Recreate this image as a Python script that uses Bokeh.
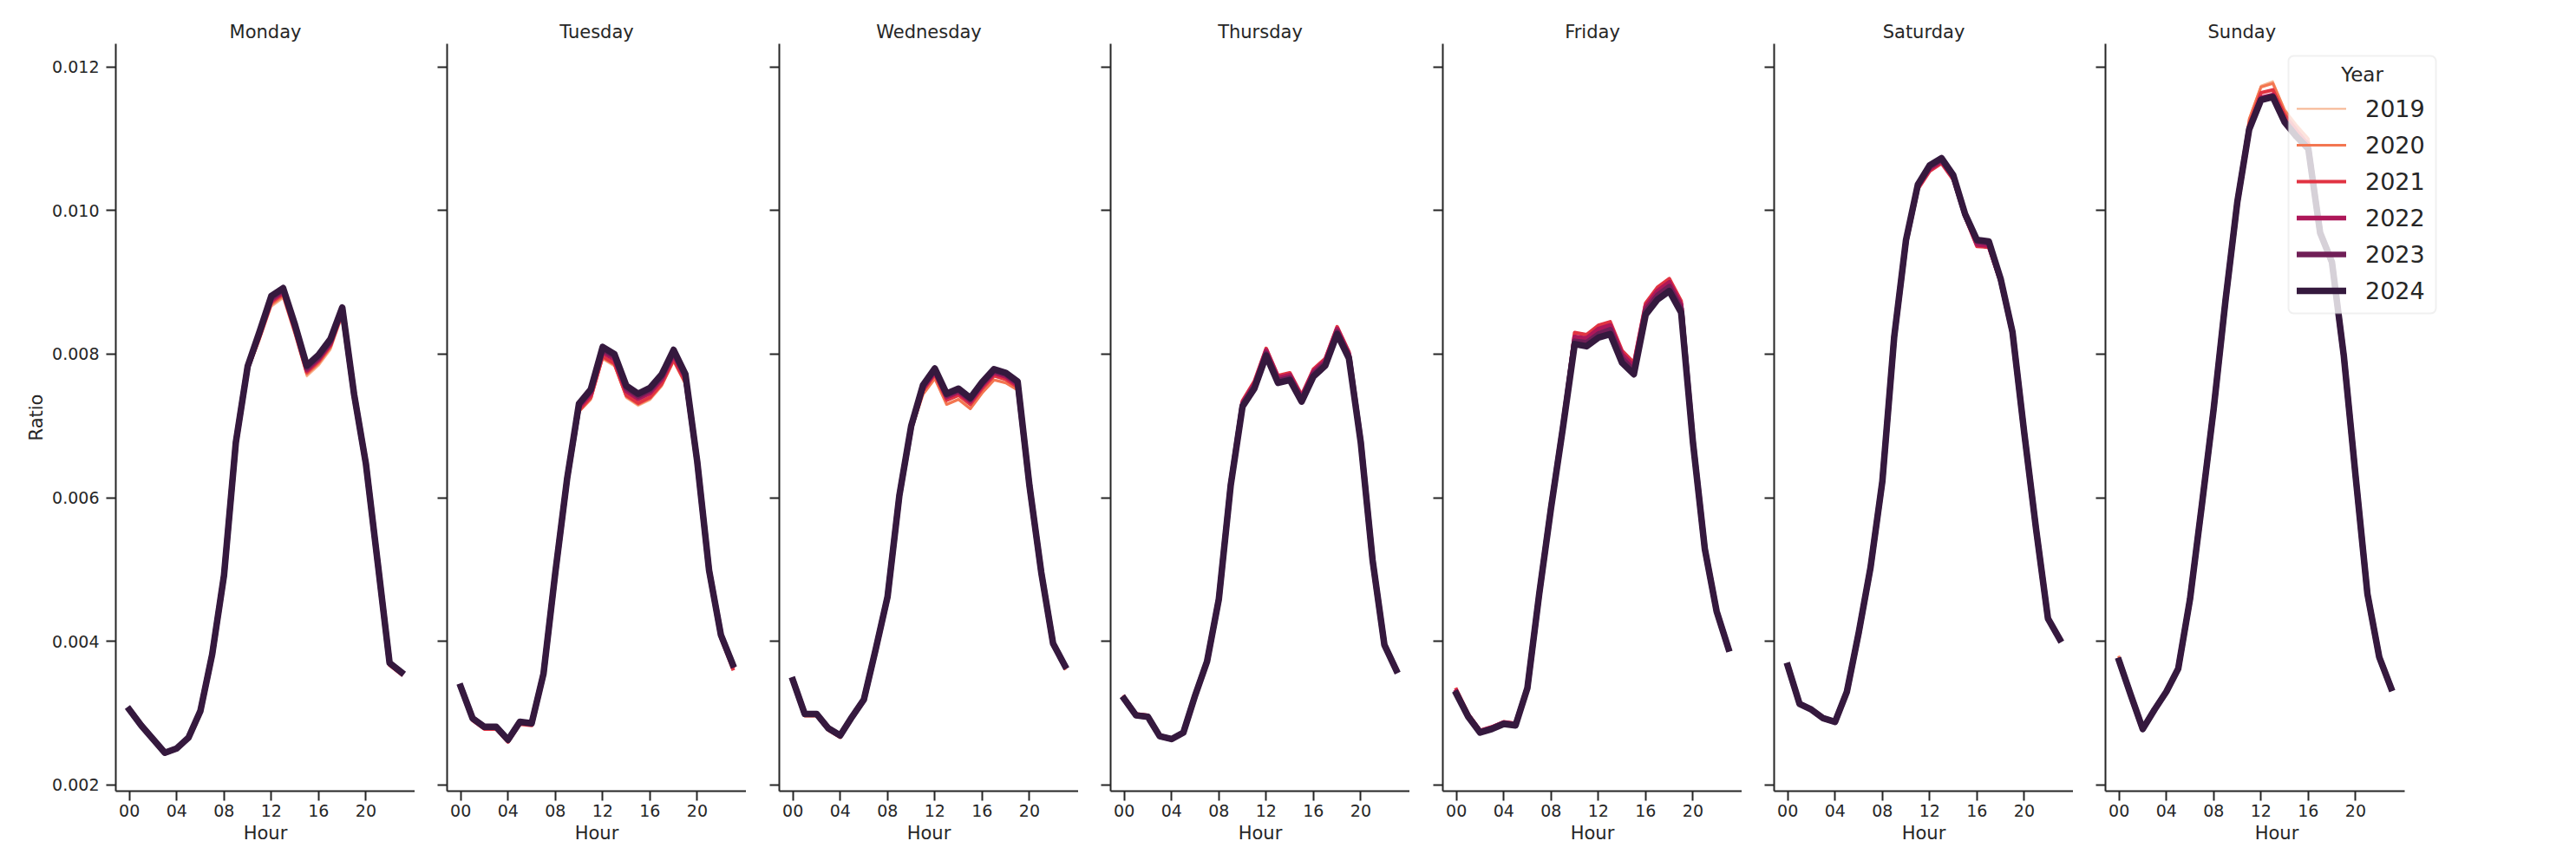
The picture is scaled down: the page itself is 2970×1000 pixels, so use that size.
from bokeh.plotting import figure
from bokeh.layouts import row
from bokeh.models import (Range1d, FixedTicker, PrintfTickFormatter, Legend, LegendItem,
                          BoxAnnotation, Label)
from bokeh.embed import file_html
from bokeh.resources import INLINE

hours = list(range(24))
years = [2019, 2020, 2021, 2022, 2023, 2024]
days = ["Monday", "Tuesday", "Wednesday", "Thursday", "Friday", "Saturday", "Sunday"]
x_ticks = [0, 4, 8, 12, 16, 20]
x_tick_labels = ["00", "04", "08", "12", "16", "20"]
y_ticks = [0.002, 0.004, 0.006, 0.008, 0.010, 0.012]

mon_2019 = [0.00304, 0.00282, 0.00263, 0.00244, 0.00250, 0.00265, 0.00302, 0.00381, 0.00491, 0.00674, 0.00776, 0.00819, 0.00866, 0.00878, 0.00826, 0.00769, 0.00784, 0.00806, 0.00853, 0.00740, 0.00645, 0.00508, 0.00369, 0.00356]
mon_2020 = [0.00304, 0.00282, 0.00263, 0.00244, 0.00250, 0.00265, 0.00302, 0.00381, 0.00491, 0.00675, 0.00778, 0.00821, 0.00869, 0.00881, 0.00829, 0.00772, 0.00787, 0.00809, 0.00856, 0.00741, 0.00646, 0.00508, 0.00368, 0.00355]
mon_2021 = [0.00304, 0.00283, 0.00264, 0.00244, 0.00250, 0.00266, 0.00303, 0.00382, 0.00492, 0.00676, 0.00780, 0.00824, 0.00872, 0.00884, 0.00832, 0.00775, 0.00790, 0.00812, 0.00858, 0.00742, 0.00646, 0.00508, 0.00367, 0.00354]
mon_2022 = [0.00305, 0.00283, 0.00264, 0.00245, 0.00251, 0.00266, 0.00303, 0.00382, 0.00492, 0.00677, 0.00781, 0.00826, 0.00875, 0.00887, 0.00835, 0.00778, 0.00793, 0.00815, 0.00861, 0.00743, 0.00647, 0.00509, 0.00369, 0.00356]
mon_2023 = [0.00305, 0.00283, 0.00264, 0.00245, 0.00251, 0.00266, 0.00303, 0.00382, 0.00492, 0.00677, 0.00783, 0.00829, 0.00878, 0.00890, 0.00838, 0.00781, 0.00796, 0.00818, 0.00863, 0.00744, 0.00647, 0.00509, 0.00370, 0.00357]
mon_2024 = [0.00305, 0.00283, 0.00264, 0.00245, 0.00251, 0.00266, 0.00303, 0.00382, 0.00492, 0.00677, 0.00783, 0.00831, 0.00881, 0.00892, 0.00841, 0.00784, 0.00799, 0.00821, 0.00865, 0.00744, 0.00647, 0.00509, 0.00370, 0.00357]

tue_2019 = [0.00336, 0.00292, 0.00280, 0.00280, 0.00262, 0.00287, 0.00285, 0.00354, 0.00494, 0.00622, 0.00719, 0.00736, 0.00793, 0.00783, 0.00739, 0.00728, 0.00736, 0.00755, 0.00789, 0.00757, 0.00648, 0.00498, 0.00407, 0.00365]
tue_2020 = [0.00336, 0.00291, 0.00279, 0.00279, 0.00261, 0.00286, 0.00284, 0.00354, 0.00494, 0.00623, 0.00720, 0.00738, 0.00795, 0.00785, 0.00741, 0.00730, 0.00738, 0.00757, 0.00791, 0.00759, 0.00648, 0.00497, 0.00406, 0.00364]
tue_2021 = [0.00336, 0.00290, 0.00278, 0.00278, 0.00260, 0.00285, 0.00283, 0.00354, 0.00494, 0.00624, 0.00722, 0.00740, 0.00797, 0.00787, 0.00743, 0.00732, 0.00740, 0.00759, 0.00793, 0.00761, 0.00648, 0.00497, 0.00405, 0.00362]
tue_2022 = [0.00337, 0.00292, 0.00280, 0.00280, 0.00262, 0.00287, 0.00285, 0.00355, 0.00495, 0.00626, 0.00726, 0.00745, 0.00803, 0.00793, 0.00749, 0.00738, 0.00746, 0.00765, 0.00799, 0.00766, 0.00649, 0.00498, 0.00408, 0.00366]
tue_2023 = [0.00337, 0.00293, 0.00281, 0.00281, 0.00263, 0.00288, 0.00286, 0.00355, 0.00496, 0.00627, 0.00729, 0.00749, 0.00807, 0.00797, 0.00753, 0.00742, 0.00750, 0.00769, 0.00803, 0.00770, 0.00650, 0.00499, 0.00409, 0.00368]
tue_2024 = [0.00337, 0.00293, 0.00281, 0.00281, 0.00263, 0.00288, 0.00286, 0.00355, 0.00496, 0.00627, 0.00731, 0.00751, 0.00810, 0.00800, 0.00756, 0.00745, 0.00753, 0.00772, 0.00806, 0.00772, 0.00650, 0.00499, 0.00409, 0.00368]

wed_2019 = [0.00345, 0.00297, 0.00297, 0.00277, 0.00267, 0.00294, 0.00318, 0.00388, 0.00461, 0.00601, 0.00693, 0.00743, 0.00765, 0.00731, 0.00738, 0.00725, 0.00747, 0.00765, 0.00761, 0.00751, 0.00614, 0.00494, 0.00395, 0.00363]
wed_2020 = [0.00345, 0.00296, 0.00296, 0.00276, 0.00266, 0.00293, 0.00318, 0.00388, 0.00461, 0.00600, 0.00694, 0.00744, 0.00766, 0.00730, 0.00737, 0.00724, 0.00746, 0.00764, 0.00760, 0.00750, 0.00614, 0.00494, 0.00394, 0.00362]
wed_2021 = [0.00345, 0.00297, 0.00297, 0.00277, 0.00267, 0.00294, 0.00318, 0.00388, 0.00461, 0.00601, 0.00697, 0.00749, 0.00772, 0.00736, 0.00743, 0.00730, 0.00752, 0.00770, 0.00765, 0.00754, 0.00615, 0.00494, 0.00395, 0.00364]
wed_2022 = [0.00346, 0.00298, 0.00298, 0.00278, 0.00268, 0.00294, 0.00319, 0.00389, 0.00462, 0.00602, 0.00698, 0.00752, 0.00775, 0.00740, 0.00747, 0.00734, 0.00756, 0.00774, 0.00769, 0.00757, 0.00616, 0.00495, 0.00396, 0.00365]
wed_2023 = [0.00346, 0.00299, 0.00299, 0.00279, 0.00269, 0.00295, 0.00319, 0.00389, 0.00462, 0.00603, 0.00699, 0.00755, 0.00778, 0.00743, 0.00750, 0.00737, 0.00759, 0.00777, 0.00772, 0.00760, 0.00617, 0.00496, 0.00397, 0.00366]
wed_2024 = [0.00346, 0.00299, 0.00299, 0.00279, 0.00269, 0.00295, 0.00319, 0.00389, 0.00462, 0.00603, 0.00700, 0.00757, 0.00780, 0.00745, 0.00752, 0.00739, 0.00761, 0.00779, 0.00774, 0.00762, 0.00617, 0.00496, 0.00397, 0.00366]

thu_2019 = [0.00321, 0.00298, 0.00296, 0.00268, 0.00264, 0.00273, 0.00325, 0.00372, 0.00459, 0.00618, 0.00730, 0.00756, 0.00802, 0.00766, 0.00769, 0.00738, 0.00774, 0.00789, 0.00832, 0.00798, 0.00678, 0.00513, 0.00395, 0.00359]
thu_2020 = [0.00321, 0.00298, 0.00296, 0.00268, 0.00264, 0.00273, 0.00325, 0.00372, 0.00460, 0.00619, 0.00731, 0.00757, 0.00803, 0.00766, 0.00769, 0.00738, 0.00774, 0.00789, 0.00833, 0.00799, 0.00679, 0.00514, 0.00396, 0.00358]
thu_2021 = [0.00323, 0.00299, 0.00297, 0.00269, 0.00265, 0.00274, 0.00326, 0.00373, 0.00460, 0.00620, 0.00735, 0.00762, 0.00808, 0.00770, 0.00774, 0.00743, 0.00779, 0.00794, 0.00838, 0.00803, 0.00680, 0.00514, 0.00396, 0.00359]
thu_2022 = [0.00321, 0.00298, 0.00296, 0.00268, 0.00264, 0.00273, 0.00325, 0.00372, 0.00460, 0.00619, 0.00732, 0.00758, 0.00805, 0.00767, 0.00771, 0.00740, 0.00776, 0.00791, 0.00835, 0.00800, 0.00679, 0.00514, 0.00396, 0.00360]
thu_2023 = [0.00320, 0.00297, 0.00295, 0.00268, 0.00264, 0.00273, 0.00325, 0.00372, 0.00459, 0.00618, 0.00729, 0.00755, 0.00801, 0.00763, 0.00767, 0.00737, 0.00772, 0.00787, 0.00831, 0.00797, 0.00678, 0.00513, 0.00395, 0.00360]
thu_2024 = [0.00320, 0.00297, 0.00295, 0.00268, 0.00264, 0.00273, 0.00325, 0.00372, 0.00459, 0.00617, 0.00727, 0.00752, 0.00798, 0.00760, 0.00764, 0.00734, 0.00769, 0.00784, 0.00828, 0.00794, 0.00677, 0.00513, 0.00395, 0.00360]

fri_2019 = [0.00329, 0.00296, 0.00274, 0.00279, 0.00286, 0.00284, 0.00336, 0.00467, 0.00587, 0.00698, 0.00823, 0.00820, 0.00832, 0.00837, 0.00797, 0.00781, 0.00864, 0.00885, 0.00897, 0.00867, 0.00678, 0.00530, 0.00442, 0.00390]
fri_2020 = [0.00330, 0.00297, 0.00275, 0.00280, 0.00287, 0.00285, 0.00336, 0.00467, 0.00588, 0.00699, 0.00825, 0.00822, 0.00834, 0.00839, 0.00799, 0.00782, 0.00866, 0.00887, 0.00899, 0.00868, 0.00679, 0.00530, 0.00443, 0.00390]
fri_2021 = [0.00333, 0.00299, 0.00276, 0.00281, 0.00288, 0.00286, 0.00337, 0.00468, 0.00589, 0.00701, 0.00830, 0.00827, 0.00840, 0.00845, 0.00805, 0.00788, 0.00871, 0.00893, 0.00905, 0.00874, 0.00680, 0.00531, 0.00444, 0.00391]
fri_2022 = [0.00330, 0.00297, 0.00275, 0.00280, 0.00287, 0.00285, 0.00336, 0.00467, 0.00588, 0.00699, 0.00824, 0.00822, 0.00835, 0.00840, 0.00800, 0.00783, 0.00866, 0.00888, 0.00900, 0.00869, 0.00679, 0.00530, 0.00443, 0.00391]
fri_2023 = [0.00328, 0.00296, 0.00274, 0.00279, 0.00286, 0.00284, 0.00335, 0.00466, 0.00587, 0.00698, 0.00818, 0.00816, 0.00828, 0.00834, 0.00794, 0.00777, 0.00860, 0.00882, 0.00894, 0.00863, 0.00678, 0.00529, 0.00442, 0.00390]
fri_2024 = [0.00327, 0.00295, 0.00273, 0.00278, 0.00285, 0.00283, 0.00335, 0.00466, 0.00586, 0.00697, 0.00814, 0.00811, 0.00823, 0.00828, 0.00788, 0.00772, 0.00855, 0.00876, 0.00888, 0.00858, 0.00677, 0.00529, 0.00442, 0.00390]

sat_2019 = [0.00367, 0.00313, 0.00305, 0.00293, 0.00288, 0.00330, 0.00411, 0.00502, 0.00622, 0.00822, 0.00956, 0.01032, 0.01057, 0.01069, 0.01046, 0.00993, 0.00952, 0.00951, 0.00902, 0.00830, 0.00689, 0.00556, 0.00432, 0.00402]
sat_2020 = [0.00367, 0.00313, 0.00305, 0.00293, 0.00288, 0.00330, 0.00411, 0.00502, 0.00622, 0.00822, 0.00956, 0.01031, 0.01056, 0.01068, 0.01045, 0.00992, 0.00951, 0.00950, 0.00901, 0.00829, 0.00689, 0.00556, 0.00432, 0.00402]
sat_2021 = [0.00367, 0.00313, 0.00305, 0.00293, 0.00288, 0.00330, 0.00411, 0.00502, 0.00622, 0.00822, 0.00955, 0.01030, 0.01055, 0.01066, 0.01043, 0.00991, 0.00950, 0.00949, 0.00900, 0.00829, 0.00689, 0.00556, 0.00432, 0.00402]
sat_2022 = [0.00366, 0.00313, 0.00305, 0.00293, 0.00288, 0.00330, 0.00412, 0.00503, 0.00623, 0.00823, 0.00957, 0.01033, 0.01058, 0.01069, 0.01046, 0.00993, 0.00953, 0.00951, 0.00902, 0.00830, 0.00690, 0.00556, 0.00432, 0.00403]
sat_2023 = [0.00366, 0.00313, 0.00305, 0.00293, 0.00288, 0.00330, 0.00412, 0.00503, 0.00623, 0.00824, 0.00958, 0.01035, 0.01061, 0.01071, 0.01048, 0.00994, 0.00957, 0.00955, 0.00904, 0.00831, 0.00690, 0.00556, 0.00432, 0.00403]
sat_2024 = [0.00366, 0.00313, 0.00305, 0.00293, 0.00288, 0.00330, 0.00412, 0.00503, 0.00623, 0.00824, 0.00959, 0.01036, 0.01063, 0.01073, 0.01049, 0.00995, 0.00959, 0.00957, 0.00905, 0.00831, 0.00690, 0.00556, 0.00432, 0.00403]

sun_2019 = [0.00377, 0.00327, 0.00279, 0.00306, 0.00332, 0.00364, 0.00462, 0.00594, 0.00730, 0.00881, 0.01018, 0.01128, 0.01174, 0.01180, 0.01141, 0.01120, 0.01101, 0.00976, 0.00930, 0.00799, 0.00631, 0.00467, 0.00379, 0.00336]
sun_2020 = [0.00378, 0.00327, 0.00279, 0.00306, 0.00332, 0.00364, 0.00462, 0.00594, 0.00729, 0.00880, 0.01017, 0.01127, 0.01172, 0.01177, 0.01139, 0.01118, 0.01100, 0.00975, 0.00930, 0.00799, 0.00631, 0.00467, 0.00379, 0.00336]
sun_2021 = [0.00375, 0.00326, 0.00279, 0.00306, 0.00331, 0.00363, 0.00461, 0.00593, 0.00727, 0.00878, 0.01015, 0.01120, 0.01164, 0.01168, 0.01133, 0.01112, 0.01093, 0.00972, 0.00929, 0.00799, 0.00631, 0.00467, 0.00378, 0.00335]
sun_2022 = [0.00374, 0.00325, 0.00278, 0.00305, 0.00331, 0.00363, 0.00460, 0.00591, 0.00725, 0.00876, 0.01013, 0.01115, 0.01157, 0.01161, 0.01126, 0.01105, 0.01088, 0.00970, 0.00928, 0.00798, 0.00630, 0.00466, 0.00378, 0.00335]
sun_2023 = [0.00373, 0.00325, 0.00278, 0.00305, 0.00330, 0.00362, 0.00459, 0.00590, 0.00724, 0.00875, 0.01012, 0.01114, 0.01155, 0.01159, 0.01124, 0.01104, 0.01087, 0.00969, 0.00928, 0.00798, 0.00630, 0.00466, 0.00378, 0.00335]
sun_2024 = [0.00373, 0.00325, 0.00278, 0.00305, 0.00330, 0.00362, 0.00459, 0.00590, 0.00724, 0.00875, 0.01012, 0.01113, 0.01154, 0.01158, 0.01123, 0.01103, 0.01086, 0.00969, 0.00928, 0.00798, 0.00630, 0.00466, 0.00378, 0.00335]

ratios = {
    "Monday": [mon_2019, mon_2020, mon_2021, mon_2022, mon_2023, mon_2024],
    "Tuesday": [tue_2019, tue_2020, tue_2021, tue_2022, tue_2023, tue_2024],
    "Wednesday": [wed_2019, wed_2020, wed_2021, wed_2022, wed_2023, wed_2024],
    "Thursday": [thu_2019, thu_2020, thu_2021, thu_2022, thu_2023, thu_2024],
    "Friday": [fri_2019, fri_2020, fri_2021, fri_2022, fri_2023, fri_2024],
    "Saturday": [sat_2019, sat_2020, sat_2021, sat_2022, sat_2023, sat_2024],
    "Sunday": [sun_2019, sun_2020, sun_2021, sun_2022, sun_2023, sun_2024],
}

# styling
colors = ["#f6b48f", "#f37651", "#e13342", "#ad1759", "#701f57", "#35193e"]
widths = [2.2, 3.2, 4.2, 5.3, 6.4, 7.5]
FONT = "DejaVu Sans"
INK = "#262626"
FRAME_W, FRAME_H = 345, 862
EXTRA_W = 50          # extra frame room on the last panel so the legend is not clipped
left_borders = [133, 37, 38, 37, 38, 37, 37]
X_LO, X_HI = -1.15, 24.15
px_per_hour = FRAME_W / (X_HI - X_LO)

shared_x = Range1d(X_LO, X_HI)
y_range = Range1d(0.001915, 0.012322)

figs = []
for i, day in enumerate(days):
    last = i == len(days) - 1
    if last:
        xr = Range1d(X_LO, X_HI + EXTRA_W / px_per_hour)
        fw = FRAME_W + EXTRA_W
    else:
        xr = shared_x
        fw = FRAME_W
    p = figure(
        frame_width=fw, frame_height=FRAME_H,
        x_range=xr, y_range=y_range,
        output_backend="svg", toolbar_location=None, tools="",
        min_border_left=left_borders[i], min_border_right=0,
        min_border_top=50, min_border_bottom=88,
        background_fill_color="white", border_fill_color="white",
    )
    p.outline_line_color = None
    p.xgrid.visible = False
    p.ygrid.visible = False

    p.title.text = day
    p.title.align = "center" if not last else "left"
    if last:
        p.title.offset = 118
    p.title.text_font = FONT
    p.title.text_font_size = "21px"
    p.title.text_font_style = "normal"
    p.title.text_color = INK
    p.title.standoff = 3

    for ax in (p.xaxis[0], p.yaxis[0]):
        ax.axis_line_color = INK
        ax.axis_line_width = 2
        ax.major_tick_line_color = INK
        ax.major_tick_line_width = 2
        ax.major_tick_out = 11
        ax.major_tick_in = 0
        ax.minor_tick_line_color = None
        ax.major_label_text_font = FONT
        ax.major_label_text_font_size = "19px"
        ax.major_label_text_color = INK
        ax.axis_label_text_font = FONT
        ax.axis_label_text_font_size = "21px"
        ax.axis_label_text_font_style = "normal"
        ax.axis_label_text_color = INK

    p.xaxis.ticker = FixedTicker(ticks=x_ticks)
    p.xaxis.major_label_overrides = {t: lab for t, lab in zip(x_ticks, x_tick_labels)}
    p.xaxis.axis_label = "Hour"
    p.xaxis.major_label_standoff = 4
    p.xaxis.axis_label_standoff = 4
    p.xaxis.bounds = (X_LO, X_HI)

    p.yaxis.ticker = FixedTicker(ticks=y_ticks)
    if i == 0:
        p.yaxis.formatter = PrintfTickFormatter(format="%.3f")
        p.yaxis.axis_label = "Ratio"
        p.yaxis.major_label_standoff = 8
        p.yaxis.axis_label_standoff = 3
    else:
        p.yaxis.major_label_overrides = {t: "" for t in y_ticks}

    renderers = []
    for yr, vals, c, w in zip(years, ratios[day], colors, widths):
        r = p.line(hours, vals, line_color=c, line_width=w, line_join="round", line_cap="square")
        renderers.append((str(yr), r))

    if last:
        # legend frame (screen units, relative to the plot frame's bottom-left)
        box = BoxAnnotation(
            left=211, right=381, bottom=551, top=848,
            left_units="screen", right_units="screen", bottom_units="screen", top_units="screen",
            fill_color="white", fill_alpha=0.8,
            line_color="#cccccc", line_width=2, border_radius=6,
        )
        p.add_layout(box)
        legend = Legend(
            items=[LegendItem(label=lab, renderers=[r]) for lab, r in renderers],
            location=(221, 556),
        )
        legend.label_text_font = FONT
        legend.label_text_font_size = "27px"
        legend.label_text_color = INK
        legend.label_standoff = 22
        legend.glyph_width = 57
        legend.glyph_height = 42
        legend.label_height = 42
        legend.spacing = 0
        legend.padding = 0
        legend.margin = 0
        legend.border_line_color = None
        legend.background_fill_alpha = 0
        p.add_layout(legend)
        title = Label(
            x=296, y=827, x_units="screen", y_units="screen", text="Year",
            text_align="center", text_baseline="middle",
            text_font=FONT, text_font_size="23px", text_color=INK,
        )
        p.add_layout(title)

    figs.append(p)

layout = row(*figs)
open("out.html", "w").write(file_html(layout, INLINE))
